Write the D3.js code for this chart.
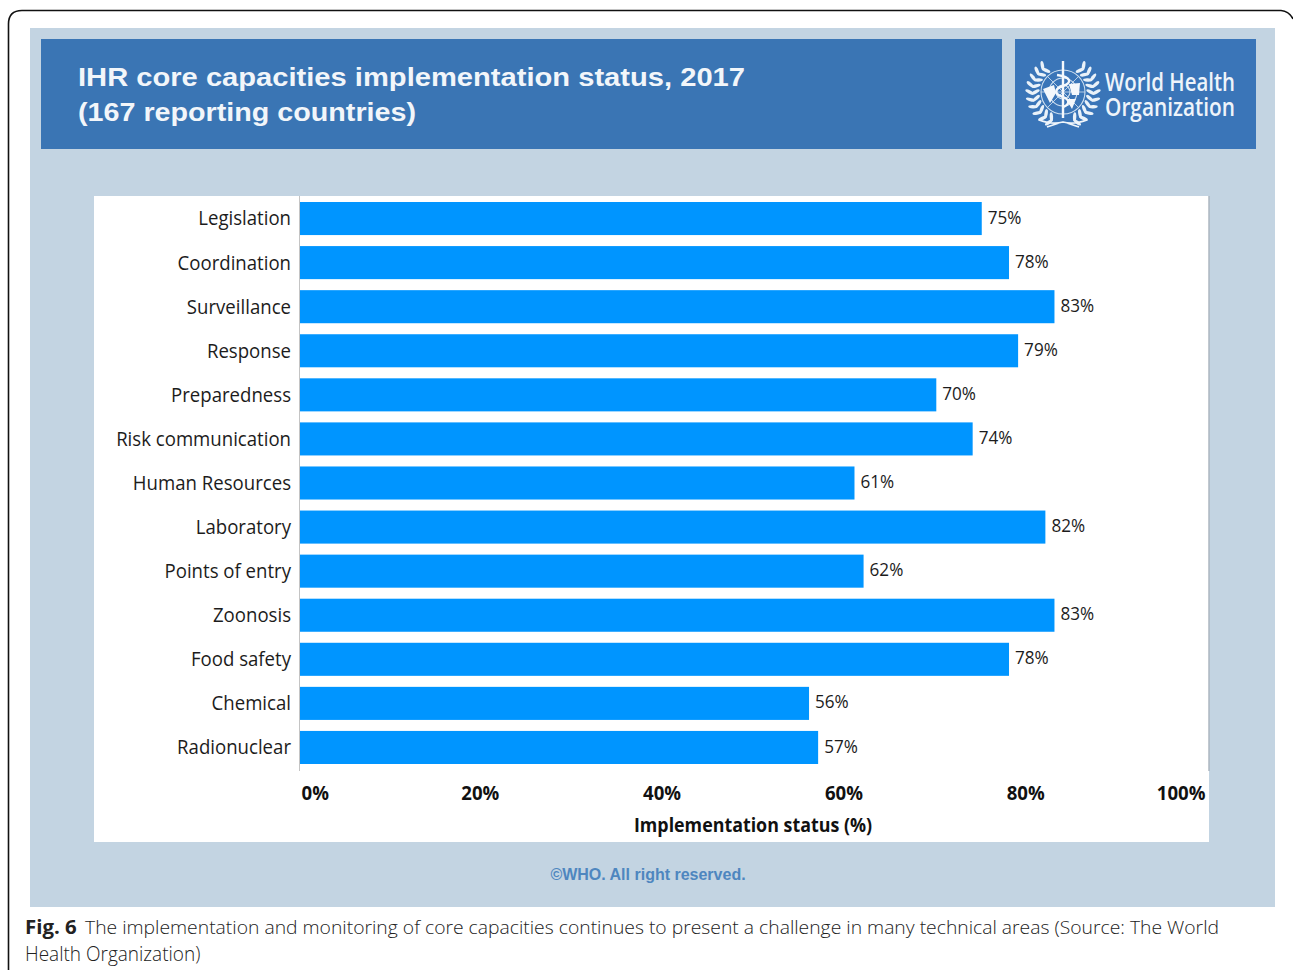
<!DOCTYPE html>
<html>
<head>
<meta charset="utf-8">
<script src="https://cdn.jsdelivr.net/npm/d3@7/dist/d3.min.js"></script>
<style>
  html, body { margin: 0; padding: 0; background: #fff; overflow: hidden; }
  svg { display: block; }
</style>
</head>
<body>
<svg id="fig" width="1293" height="970"></svg>
<script>
// Core capacity scores, 2017
const capacities = ["Legislation", "Coordination", "Surveillance", "Response", "Preparedness",
  "Risk communication", "Human Resources", "Laboratory", "Points of entry", "Zoonosis",
  "Food safety", "Chemical", "Radionuclear"];
const scores = [75, 78, 83, 79, 70, 74, 61, 82, 62, 83, 78, 56, 57];
const axisTicks = [0, 20, 40, 60, 80, 100];

const titleLines = ["IHR core capacities implementation status, 2017", "(167 reporting countries)"];
const titleWidths = [667, 338];
const logoLines = ["World Health", "Organization"];
const axisTitle = "Implementation status (%)";
const rights = "©WHO. All right reserved.";
const captionLead = "Fig. 6";
const captionLines = [
  "The implementation and monitoring of core capacities continues to present a challenge in many technical areas (Source: The World",
  "Health Organization)"
];

const HUMANIST = "'Open Sans', 'Noto Sans', sans-serif";
const GROTESK = "'Liberation Sans', Arial, sans-serif";
const svg = d3.select("#fig");

// Rescale a label to a fraction of its natural width, keeping its anchor
function squeeze(sel, factor) {
  sel.each(function () {
    const w = this.getComputedTextLength();
    d3.select(this).attr("textLength", w * factor).attr("lengthAdjust", "spacingAndGlyphs");
  });
  return sel;
}

// Article frame, running off the bottom of the page and curling away at the top right
svg.append("path")
  .attr("d", "M8.5 970 V24 Q8.5 10.5 22 10.5 H1281 Q1289 11 1293 19")
  .attr("fill", "none").attr("stroke", "#111").attr("stroke-width", 1.6);

// Slide background and banners
svg.append("rect").attr("x", 30).attr("y", 28).attr("width", 1245).attr("height", 879).attr("fill", "#c3d4e2");
svg.append("rect").attr("x", 41).attr("y", 39).attr("width", 961).attr("height", 110).attr("fill", "#3a75b4");
svg.append("rect").attr("x", 1015).attr("y", 39).attr("width", 241).attr("height", 110).attr("fill", "#3a75b8");

svg.selectAll("text.title").data(titleLines).join("text")
  .attr("class", "title")
  .attr("x", 78).attr("y", (d, i) => 86 + i * 35)
  .attr("font-family", GROTESK).attr("font-weight", 700).attr("font-size", 25)
  .attr("fill", "#f2f6fa")
  .attr("textLength", (d, i) => titleWidths[i]).attr("lengthAdjust", "spacingAndGlyphs")
  .text(d => d);

// Emblem: globe, staff and wreath
const emblem = svg.append("g").attr("transform", "translate(1063,92)")
  .attr("fill", "none").attr("stroke", "#cfe0f0");
[7, 14, 22].forEach(r => emblem.append("circle").attr("r", r).attr("stroke-width", 1.1));
d3.range(0, 180, 45).forEach(a => {
  emblem.append("line").attr("x1", -22).attr("x2", 22)
    .attr("transform", `rotate(${a})`).attr("stroke-width", 0.8);
});
emblem.append("path").attr("d", "M-20 -3 L-9 -7 L-7 1 L-13 11 Z M6 -8 L17 -9 L16 3 L9 3 Z M3 7 L13 7 L9 17 Z")
  .attr("fill", "#f4f8fc").attr("stroke", "none");
emblem.append("line").attr("y1", -31).attr("y2", 26).attr("stroke", "#f4f8fc").attr("stroke-width", 2.4);
emblem.append("path").attr("d", "M-6 -17 C9 -15 9 -9 0 -6 C-9 -3 -9 2 0 5 C8 8 6 13 0 15")
  .attr("stroke", "#f4f8fc").attr("stroke-width", 2.4);
[-1, 1].forEach(side => {
  d3.range(38, 165, 13).forEach(a => {
    const t = a * Math.PI / 180;
    [[27.5, 28], [33.5, -28]].forEach(([r, splay]) => {
      const px = side * r * Math.sin(t), py = -r * Math.cos(t);
      emblem.append("ellipse").attr("rx", 1.7).attr("ry", 4.6)
        .attr("transform", `translate(${px},${py}) rotate(${side * (a + splay)})`)
        .attr("fill", "#eaf2f9").attr("stroke", "none");
    });
  });
});
emblem.append("path").attr("d", "M-24 28 Q-10 33 0 30 Q10 33 24 28 M-16 35 L-4 31 M16 35 L4 31")
  .attr("stroke", "#f0f6fb").attr("stroke-width", 1.8);

svg.selectAll("text.logo").data(logoLines).join("text")
  .attr("class", "logo")
  .attr("x", 1105).attr("y", (d, i) => 91 + i * 25)
  .attr("font-family", HUMANIST).attr("font-weight", 600).attr("font-size", 25).attr("fill", "#eef4fa")
  .attr("textLength", 130).attr("lengthAdjust", "spacingAndGlyphs")
  .text(d => d);

// Chart panel
svg.append("rect").attr("x", 94).attr("y", 196).attr("width", 1115).attr("height", 646).attr("fill", "#fff");
svg.append("line").attr("x1", 1209).attr("x2", 1209).attr("y1", 196).attr("y2", 771)
  .attr("stroke", "#a9b3bd").attr("stroke-width", 1.4);

const x = d3.scaleLinear().domain([0, 100]).range([300, 1209]);
const y = d3.scaleBand().domain(capacities).range([196.5, 769.5]).paddingInner(0.25).paddingOuter(0.125);

svg.append("g").selectAll("rect").data(capacities).join("rect")
  .attr("x", x(0))
  .attr("y", d => y(d))
  .attr("width", (d, i) => x(scores[i]) - x(0))
  .attr("height", y.bandwidth())
  .attr("fill", "#0095ff");

// Category axis
const yAxis = svg.append("g").attr("transform", "translate(299,0.5)")
  .call(d3.axisLeft(y).tickSize(0).tickPadding(8));
yAxis.select(".domain").remove();
svg.append("line").attr("x1", 299.5).attr("x2", 299.5).attr("y1", 196).attr("y2", 771)
  .attr("stroke", "#c4c4c4").attr("stroke-width", 1);
yAxis.selectAll("text")
  .attr("font-family", HUMANIST).attr("font-size", 20).attr("fill", "#1c1c1c")
  .attr("font-weight", 500).attr("dy", "0.32em")
  .call(squeeze, 0.93);

// Value labels
svg.append("g").selectAll("text").data(capacities).join("text")
  .attr("x", (d, i) => x(scores[i]) + 6)
  .attr("y", d => y(d) + y.bandwidth() / 2 - 1)
  .attr("dy", "0.32em")
  .attr("font-family", HUMANIST).attr("font-weight", 500).attr("font-size", 19).attr("fill", "#1c1c1c")
  .text((d, i) => `${scores[i]}%`)
  .call(squeeze, 0.9);

// Percentage axis; the end labels sit inside the panel
const xAxis = svg.append("g").attr("transform", "translate(-2,771)")
  .call(d3.axisBottom(x).tickValues(axisTicks).tickFormat(d => `${d}%`).tickSize(0).tickPadding(15));
xAxis.select(".domain").remove();
xAxis.selectAll("text")
  .attr("font-family", HUMANIST).attr("font-weight", 700).attr("font-size", 20).attr("fill", "#111")
  .attr("text-anchor", d => d === 0 ? "start" : d === 100 ? "end" : "middle")
  .attr("dx", d => d === 0 ? 3 : d === 100 ? -2 : 0)
  .call(squeeze, 0.93);

svg.append("text").attr("x", 753).attr("y", 832).attr("text-anchor", "middle")
  .attr("font-family", HUMANIST).attr("font-weight", 700).attr("font-size", 19.5).attr("fill", "#111")
  .text(axisTitle)
  .call(squeeze, 0.915);

svg.append("text").attr("x", 648).attr("y", 880).attr("text-anchor", "middle")
  .attr("font-family", GROTESK).attr("font-weight", 700).attr("font-size", 16).attr("fill", "#4e86bf")
  .text(rights);

// Figure caption
svg.append("text").attr("x", 25).attr("y", 934)
  .attr("font-family", HUMANIST).attr("font-size", 20).attr("font-weight", 700).attr("fill", "#222")
  .text(captionLead)
  .call(squeeze, 1.02);
svg.append("text").attr("x", 85).attr("y", 934)
  .attr("font-family", HUMANIST).attr("font-size", 19).attr("font-weight", 300).attr("fill", "#222")
  .attr("textLength", 1134).attr("lengthAdjust", "spacingAndGlyphs")
  .text(captionLines[0]);
svg.append("text").attr("x", 25).attr("y", 961)
  .attr("font-family", HUMANIST).attr("font-size", 20).attr("font-weight", 300).attr("fill", "#222")
  .text(captionLines[1])
  .call(squeeze, 0.95);
</script>
</body>
</html>
